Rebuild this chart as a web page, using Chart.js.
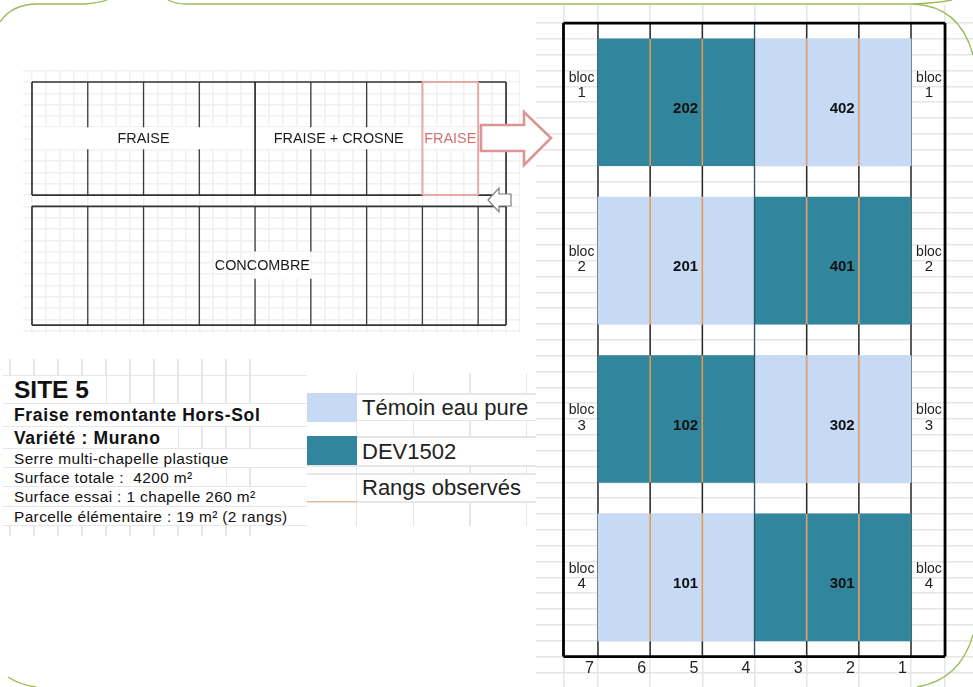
<!DOCTYPE html>
<html>
<head>
<meta charset="utf-8">
<title>Site 5</title>
<script src="https://cdn.jsdelivr.net/npm/chart.js@4/dist/chart.umd.min.js"></script>
<style>
    html, body { margin: 0; padding: 0; background: #fff; }
    body { position: relative; width: 973px; height: 687px; overflow: hidden; font-family: "Liberation Sans", Arial, sans-serif; color: #111; }
    canvas, svg, .panel, .legend { position: absolute; }
    #planChart { left: 23px; top: 70px; }
    #trialChart { left: 536px; top: 5px; }
    svg { left: 0; top: 0; pointer-events: none; }

    /* spreadsheet grid behind the text blocks */
    .panel { left: 3px; top: 359px; width: 304px; height: 177px;
        background: repeating-linear-gradient(90deg, transparent 0 6px, #e6e6e6 6px 7.5px, transparent 7.5px 24px) 0 0 / 253px 100% no-repeat; }
    .row { position: absolute; left: 0; width: 304px; border-top: 1.5px solid #e6e6e6; box-sizing: border-box; }
    .row span { position: absolute; left: 0; top: 0; bottom: 0; background: #fff; padding-left: 11px; box-sizing: border-box; white-space: pre; }
    .legend { left: 307px; top: 373px; width: 229px; height: 153px;
        background: repeating-linear-gradient(90deg, transparent 0 49px, #e6e6e6 49px 50.5px, transparent 50.5px 56.6px) 0 0 / 229px 100% no-repeat; }
    .rule { position: absolute; left: 0; width: 229px; height: 1.5px; background: #e6e6e6; }
    .swatch { position: absolute; left: 0; width: 50px; }
    .name { position: absolute; left: 50px; width: 179px; background: #fff; padding-left: 5px; box-sizing: border-box; font-size: 22px; white-space: nowrap; color: #222; }
</style>
</head>
<body>
<canvas id="planChart" width="497" height="263"></canvas>
<canvas id="trialChart" width="437" height="682"></canvas>

<div class="panel" id="panel"></div>
<div class="legend" id="legend"></div>

<svg width="973" height="687" viewBox="0 0 973 687">
    <!-- rounded slide border -->
    <g fill="none" stroke="#9BBB59" stroke-width="1.3">
        <path d="M0 22 Q12 4 38 4 L85 4 Q98 3 107 0"/>
        <path d="M168 0 Q175 4 186 4 L913 4 Q960 6 973 55"/>
        <path d="M913 4 Q935 3 952 0"/>
        <path d="M8 677 Q20 685 36 687"/>
        <path d="M973 635 Q960 680 917 687"/>
    </g>
    <polygon points="481,125 524,125 524,112 551,138 524,165 524,151 481,151" fill="#fff" stroke="#D99694" stroke-width="2.6"/>
    <polygon points="488,200 499,188 499,194 511,194 511,206 499,206 499,212" fill="#fff" stroke="#7f7f7f" stroke-width="1.2"/>
</svg>

<script>
// Data
const rangs = [7, 6, 5, 4, 3, 2, 1];
const blocs = [1, 2, 3, 4];
const temoinBlocs = [2, 4, 1, 3];
const temoinStart = [7, 7, 4, 4];
const temoinEnd = [4, 4, 1, 1];
const devBlocs = [1, 3, 2, 4];
const devStart = [7, 7, 4, 4];
const devEnd = [4, 4, 1, 1];
const parcelCodes = [202, 402, 201, 401, 102, 302, 101, 301];
const parcelBlocs = [1, 1, 2, 2, 3, 3, 4, 4];
const parcelCentre = [5.32, 2.32, 5.32, 2.32, 5.32, 2.32, 5.32, 2.32];
const observedRangs = [6, 5, 3, 2];

const topDividers = [1, 2, 3, 5, 6];
const bottomDividers = [1, 2, 3, 4, 5, 6, 7, 8];
const zoneNames = ['FRAISE', 'FRAISE + CROSNE', 'FRAISE', 'CONCOMBRE'];
const zoneCentre = [2, 5.5, 7.5, 4.13];
const zoneRow = [5, 5, 5, 16.2];

const infoLines = ['SITE 5', 'Fraise remontante Hors-Sol', 'Variété : Murano', 'Serre multi-chapelle plastique',
    'Surface totale :  4200 m²', 'Surface essai : 1 chapelle 260 m²', 'Parcelle élémentaire : 19 m² (2 rangs)'];
const legendNames = ['Témoin eau pure', 'DEV1502', 'Rangs observés'];

const TEMOIN = '#C6D9F5';
const DEV = '#31859C';
const GRID = '#E6E6E6';
const FONT = '"Liberation Sans", Arial, sans-serif';

Chart.defaults.animation = false;
Chart.defaults.responsive = false;
Chart.defaults.devicePixelRatio = 1;

// one scatter dataset made of separate segments
function segments(list, color, width, order) {
    const points = [];
    list.forEach(s => {
        points.push({ x: s[0], y: s[1] }, { x: s[2], y: s[3] }, { x: NaN, y: NaN });
    });
    return { type: 'scatter', data: points, showLine: true, spanGaps: false, borderColor: color, borderWidth: width, pointRadius: 0, order: order };
}

function gridScale(min, max, lines, reverse, color) {
    return {
        type: 'linear', min: min, max: max, reverse: !!reverse, offset: false,
        border: { display: false },
        ticks: { display: false },
        grid: { color: color || GRID, lineWidth: 1.5, drawTicks: false, offset: false },
        afterBuildTicks: scale => { scale.ticks = lines.map(v => ({ value: v })); }
    };
}

function stepList(from, to, step) {
    const out = [];
    for (let i = 0; from + i * step <= to + 1e-6; i++) out.push(from + i * step);
    return out;
}

// Greenhouse plan (x in chapels, y in spreadsheet rows)
const planBands = [[0, 4, 4, 5.95], [4, 7, 4, 5.95], [7, 8, 4, 5.95], [4, 5, 15, 17.4]];

const planTextPlugin = {
    id: 'planText',
    beforeDatasetsDraw(chart) {
        const { ctx, scales: { x, y } } = chart;
        ctx.save();
        ctx.fillStyle = '#fff';
        planBands.forEach(b => {
            ctx.fillRect(x.getPixelForValue(b[0]), y.getPixelForValue(b[2]), x.getPixelForValue(b[1]) - x.getPixelForValue(b[0]), y.getPixelForValue(b[3]) - y.getPixelForValue(b[2]));
        });
        ctx.restore();
    },
    afterDatasetsDraw(chart) {
        const { ctx, scales: { x, y } } = chart;
        ctx.save();
        ctx.font = '14.4px ' + FONT;
        ctx.textAlign = 'center';
        ctx.textBaseline = 'middle';
        zoneNames.forEach((name, i) => {
            ctx.fillStyle = i === 2 ? '#D4706C' : '#1a1a1a';
            ctx.fillText(name, x.getPixelForValue(zoneCentre[i]), y.getPixelForValue(zoneRow[i]) + 1);
        });
        ctx.restore();
    }
};

const topLines = [];
topDividers.forEach(c => {
    topLines.push([c, 0, c, 4], [c, 5.95, c, 10]);
});
const bottomLines = [];
bottomDividers.forEach(c => {
    if (c === 4 || c === 5) bottomLines.push([c, 11, c, 15], [c, 17.4, c, 21.5]);
    else bottomLines.push([c, 11, c, 21.5]);
});

new Chart(document.getElementById('planChart'), {
    type: 'scatter',
    data: {
        datasets: [
            segments(topLines.concat(bottomLines), '#3a3a3a', 1.3, 3),
            segments([[4, 0, 4, 10]], '#222', 1.6, 2),
            segments([[0, 0, 8.5, 0], [8.5, 0, 8.5, 10], [8.5, 10, 0, 10], [0, 10, 0, 0],
                [0, 11, 8.5, 11], [8.5, 11, 8.5, 21.5], [8.5, 21.5, 0, 21.5], [0, 21.5, 0, 11]], '#333', 1.7, 2),
            segments([[7, 0, 8, 0], [8, 0, 8, 10], [8, 10, 7, 10], [7, 10, 7, 0]], '#E6A9A7', 2, 1)
        ]
    },
    options: {
        layout: { padding: 0 },
        plugins: { legend: { display: false }, tooltip: { enabled: false } },
        scales: {
            x: gridScale(-0.161, 8.75, stepList(0, 8.75, 0.25), false, '#F0F0F0'),
            y: gridScale(-1.06, 22.2, stepList(-1, 22, 1), true, '#F0F0F0')
        }
    },
    plugins: [planTextPlugin]
});

// Trial layout (x in rangs, y in blocs)
const trialTextPlugin = {
    id: 'trialText',
    afterDatasetsDraw(chart) {
        const { ctx, scales: { x, y } } = chart;
        ctx.save();
        ctx.textAlign = 'center';
        ctx.textBaseline = 'middle';
        ctx.fillStyle = '#111';
        ctx.font = 'bold 15px ' + FONT;
        parcelCodes.forEach((code, i) => {
            ctx.fillText(code, x.getPixelForValue(parcelCentre[i]), y.getPixelForValue(parcelBlocs[i]) + 6.5);
        });
        ctx.fillStyle = '#222';
        blocs.forEach(b => {
            // the first bloc label sits higher in its cell than the others
            const lift = b === 1 ? 24.5 : 8.5;
            [7.66, 0.35].forEach(edge => {
                const px = x.getPixelForValue(edge) + (edge > 1 ? 18 : -16);
                ctx.font = '14px ' + FONT;
                ctx.fillText('bloc', px, y.getPixelForValue(b) - lift);
                ctx.font = '15px ' + FONT;
                ctx.fillText(b, px, y.getPixelForValue(b) - lift + 15);
            });
        });
        ctx.font = '16px ' + FONT;
        ctx.textAlign = 'right';
        rangs.forEach(r => {
            ctx.fillText(r, x.getPixelForValue(r) - 4, y.getPixelForValue(4.5) + 12);
        });
        ctx.restore();
    }
};

function parcelData(bl, start, end) {
    return bl.map((b, i) => ({ x: [start[i], end[i]], y: b }));
}

const darkLines = [7, 6, 5, 3, 2, 1].map(r => [r, 0.5, r, 4.5]);
const orangeLeft = [];
const orangeRight = [];
blocs.forEach(b => {
    observedRangs.forEach(r => {
        (r > 4 ? orangeLeft : orangeRight).push([r, b - 0.4, r, b + 0.4]);
    });
});

new Chart(document.getElementById('trialChart'), {
    data: {
        datasets: [
            segments(darkLines, '#2b2b2b', 1.5, 6),
            { type: 'bar', label: legendNames[0], indexAxis: 'y', grouped: false, barThickness: 127, backgroundColor: TEMOIN, data: parcelData(temoinBlocs, temoinStart, temoinEnd), order: 5 },
            { type: 'bar', label: legendNames[1], indexAxis: 'y', grouped: false, barThickness: 127, backgroundColor: DEV, data: parcelData(devBlocs, devStart, devEnd), order: 5 },
            segments([[4, 0.5, 4, 4.5]], '#2f5560', 1.3, 4),
            segments(orangeLeft, '#F0984A', 1.5, 3),
            segments(orangeRight, '#DFA071', 1.7, 3),
            segments([[7.661, 0.5, 0.348, 0.5], [0.348, 0.5, 0.348, 4.5], [0.348, 4.5, 7.661, 4.5], [7.661, 4.5, 7.661, 0.5]], '#000', 2.8, 1)
        ]
    },
    options: {
        layout: { padding: 0 },
        plugins: { legend: { display: false }, tooltip: { enabled: false } },
        scales: {
            x: gridScale(-0.188, 8.188, [7.661].concat(rangs, [0.348]), true),
            y: gridScale(0.386, 4.692, stepList(0.5, 4.63, 0.1), true)
        }
    },
    plugins: [trialTextPlugin]
});

// Site description block
const panel = document.getElementById('panel');
const infoTop = [16, 44, 67, 89, 108, 127, 147];
const infoHeight = [28, 23, 22, 19, 19, 19, 19];
const infoCell = [103, 262, 175, 248, 223, 262, 290];
const infoFont = ['bold 24.5px', 'bold 17.5px', 'bold 17.5px', '15.4px', '15.4px', '15.4px', '15.4px'];
const infoSpacing = ['0', '0.65px', '0.65px', '0.4px', '0.4px', '0.4px', '0.4px'];
infoLines.forEach((text, i) => {
    const row = document.createElement('div');
    row.className = 'row';
    row.style.top = infoTop[i] + 'px';
    row.style.height = infoHeight[i] + 'px';
    const span = document.createElement('span');
    span.textContent = text;
    span.style.width = infoCell[i] + 'px';
    span.style.font = infoFont[i] + ' ' + FONT;
    span.style.letterSpacing = infoSpacing[i];
    span.style.lineHeight = infoHeight[i] + 'px';
    row.appendChild(span);
    panel.appendChild(row);
});
const lastRow = document.createElement('div');
lastRow.className = 'row';
lastRow.style.top = '166px';
panel.appendChild(lastRow);

// Legend block
const legend = document.getElementById('legend');
[20, 46, 63, 92, 100, 128].forEach(t => {
    const rule = document.createElement('div');
    rule.className = 'rule';
    rule.style.top = t + 'px';
    legend.appendChild(rule);
});
[[20, 29, TEMOIN], [63, 29, DEV], [127.5, 1.5, '#F4B183']].forEach(s => {
    const sw = document.createElement('div');
    sw.className = 'swatch';
    sw.style.top = s[0] + 'px';
    sw.style.height = s[1] + 'px';
    sw.style.background = s[2];
    legend.appendChild(sw);
});
const nameTop = [21.5, 64.5, 101.5];
const nameHeight = [25, 27, 26];
legendNames.forEach((text, i) => {
    const n = document.createElement('div');
    n.className = 'name';
    n.textContent = text;
    n.style.top = nameTop[i] + 'px';
    n.style.height = nameHeight[i] + 'px';
    n.style.lineHeight = nameHeight[i] + 'px';
    legend.appendChild(n);
});
</script>
</body>
</html>
